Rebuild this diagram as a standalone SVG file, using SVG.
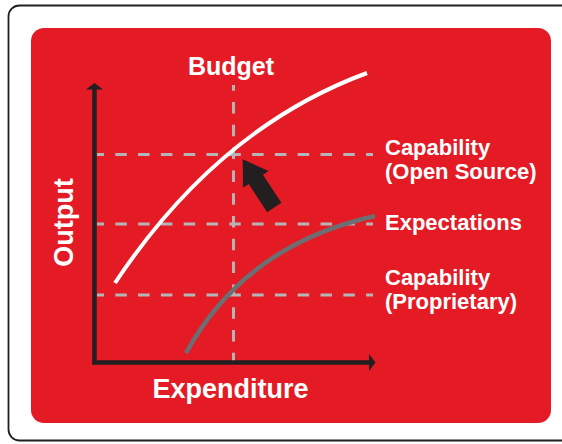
<svg xmlns="http://www.w3.org/2000/svg" width="562" height="444" viewBox="0 0 562 444">
<style>
.lbl{font-family:"Liberation Sans",Arial,sans-serif;font-weight:bold;fill:#ffffff}
.dash{stroke:#B5B5B7;stroke-width:3;stroke-dasharray:11.5 11.3;fill:none}
.axis{stroke:#231F20;stroke-width:4.5;fill:none}
.head{fill:#231F20}
</style>
<g id="frame">
<rect x="8.5" y="5.5" width="600" height="435" rx="11" fill="#ffffff" stroke="#231F20" stroke-width="1.8"/>
<rect x="31" y="28" width="520" height="395" rx="13" fill="#E41B24"/>
</g>
<g id="gridlines">
<line class="dash" x1="233.5" y1="85" x2="233.5" y2="361" stroke-dashoffset="5.8"/>
<line class="dash" x1="97" y1="154.5" x2="373" y2="154.5" stroke-dashoffset="4.5"/>
<line class="dash" x1="97" y1="224" x2="373" y2="224" stroke-dashoffset="4.5"/>
<line class="dash" x1="97" y1="295" x2="373" y2="295" stroke-dashoffset="4.5"/>
</g>
<g id="axes">
<line class="axis" x1="94.5" y1="88" x2="94.5" y2="364.5"/>
<polygon class="head" points="94.5,83 103,89.5 86,89.5"/>
<line class="axis" x1="92.3" y1="362.5" x2="370" y2="362.5"/>
<polygon class="head" points="375.5,362.5 369,354 369,371"/>
</g>
<g id="curves">
<path id="open-source-curve" d="M115,283 Q218,128 367,73" fill="none" stroke="#ffffff" stroke-width="4" stroke-linecap="butt"/>
<path id="proprietary-curve" d="M186,353 Q245,245 375,216" fill="none" stroke="#6D6E71" stroke-width="4.5"/>
</g>
<g id="shift-arrow">
<polygon points="0,0 15.3,24 8.5,24 8.5,57.6 -8.5,57.6 -8.5,24 -15.3,24" fill="#231F20" transform="translate(242.7,159.3) rotate(-33.2)"/>
</g>
<g id="labels">
<text class="lbl" x="231" y="74.5" font-size="25" text-anchor="middle">Budget</text>
<text class="lbl" x="230.5" y="398" font-size="27" text-anchor="middle">Expenditure</text>
<text class="lbl" font-size="27" text-anchor="middle" transform="translate(73,222.5) rotate(-90)">Output</text>
<text class="lbl" x="385" y="155" font-size="22">Capability</text>
<text class="lbl" x="385" y="179" font-size="22">(Open Source)</text>
<text class="lbl" x="385" y="230" font-size="22">Expectations</text>
<text class="lbl" x="385" y="285" font-size="22">Capability</text>
<text class="lbl" x="385" y="309" font-size="22">(Proprietary)</text>
</g>
</svg>
